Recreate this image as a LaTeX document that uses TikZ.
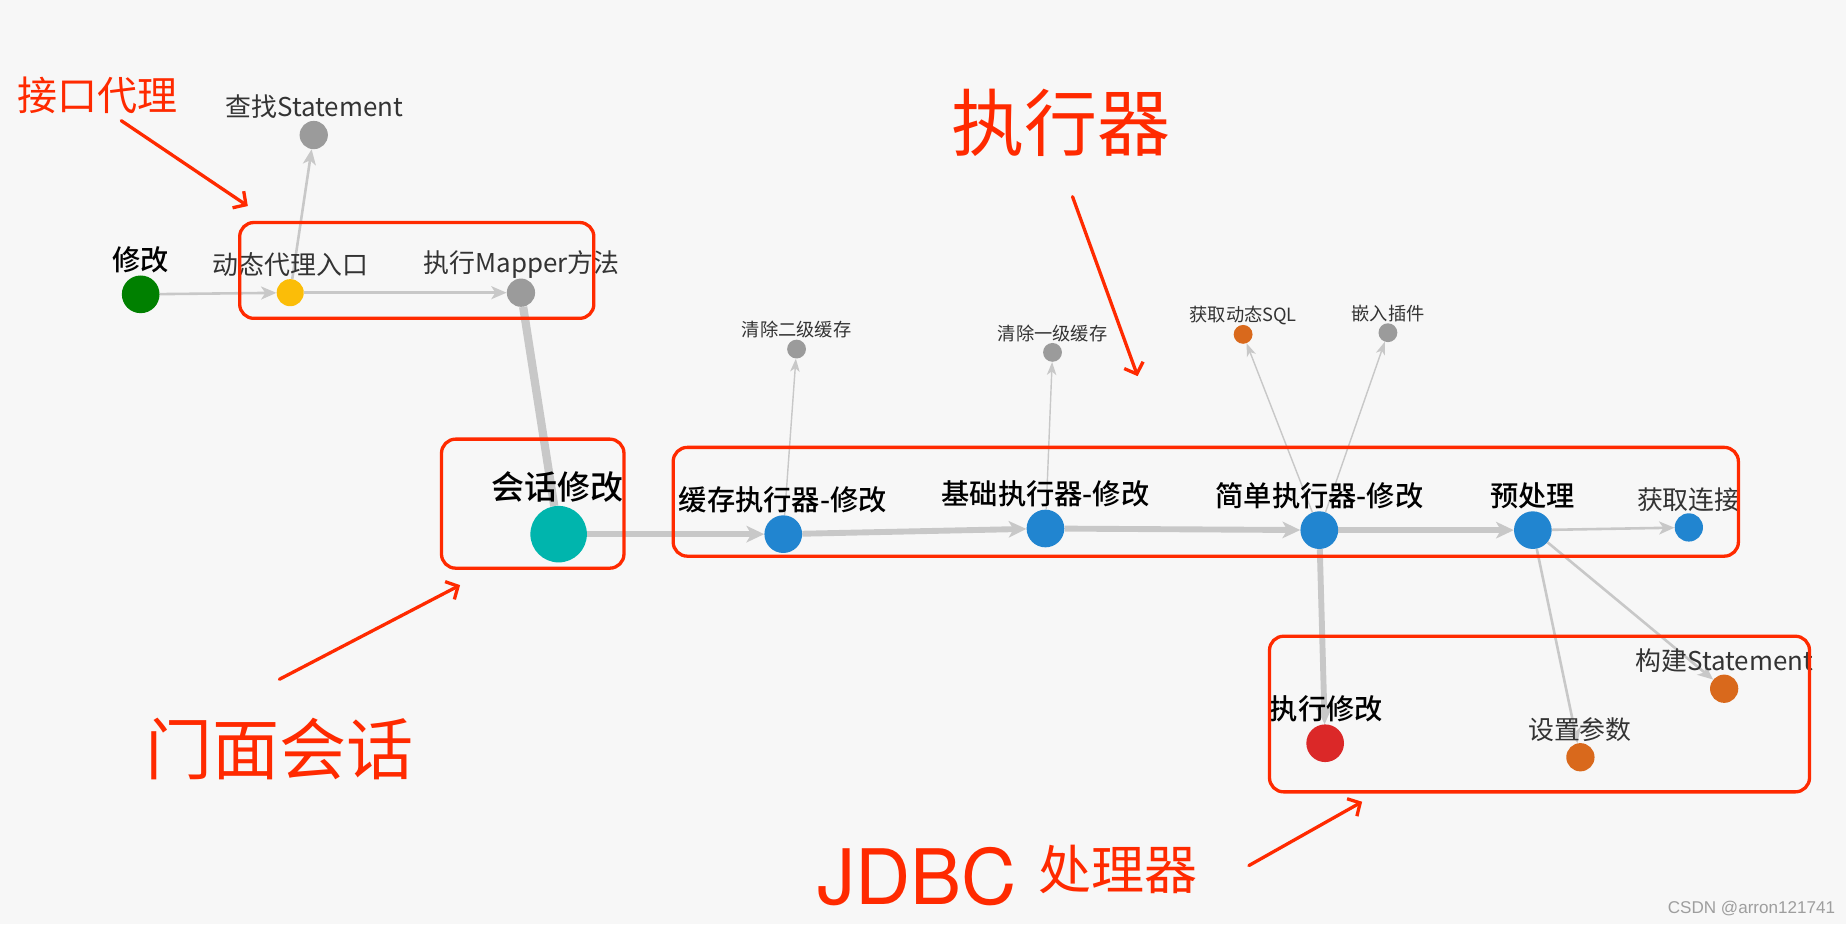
\documentclass[tikz,border=0pt]{standalone}
\usepackage{fontspec}
\setmainfont{Noto Sans CJK SC}
\newfontfamily\medium{Noto Sans CJK SC}[UprightFont=* Medium]
\newfontfamily\heros{TeX Gyre Heros}
\newfontfamily\liber{Liberation Sans}
\usetikzlibrary{arrows.meta}
\definecolor{bgc}{HTML}{F7F7F7}
\definecolor{edgec}{HTML}{C8C8C8}
\definecolor{markc}{HTML}{FF2A00}
\definecolor{greenc}{HTML}{008000}
\definecolor{yellowc}{HTML}{FBBD08}
\definecolor{grayc}{HTML}{9B9B9B}
\definecolor{tealc}{HTML}{00B5AD}
\definecolor{bluec}{HTML}{2185D0}
\definecolor{orangec}{HTML}{D9691C}
\definecolor{redc}{HTML}{DB2828}
\definecolor{textc}{HTML}{333333}
\tikzset{
  dot/.style={circle,inner sep=0pt,minimum size=#1},
  lbold/.style={inner sep=0pt,font=\medium\fontsize{24}{24}\selectfont},
  lgray/.style={inner sep=0pt,text=textc,font=\fontsize{22}{22}\selectfont},
  lsmall/.style={inner sep=0pt,text=textc,font=\fontsize{15.5}{15.5}\selectfont},
  linkfat/.style={draw=edgec,line width=5pt,-{Stealth[length=15pt,width=14pt,inset=4pt]}},
  linkmid/.style={draw=edgec,line width=2.2pt,-{Stealth[length=13pt,width=11pt,inset=3.5pt]}},
  linkfine/.style={draw=edgec,line width=1.2pt,-{Stealth[length=11pt,width=8pt,inset=3pt]}},
  redbox/.style={draw=markc,line width=2.8pt,rounded corners=12pt},
  redarrow/.style={draw=markc,line width=2.8pt,line cap=round,-{Straight Barb[length=8pt,width=17pt]}},
  redtext/.style={inner sep=0pt,text=markc},
}
\begin{document}
\begin{tikzpicture}[x=1pt,y=-1pt]
\fill[bgc] (0,0) rectangle (1568,785);
\useasboundingbox (0,0) rectangle (1568,785);
\foreach \n/\x/\y/\d/\c in {xiugai/119.5/250/32/greenc, daili/246.5/248.6/23/yellowc,
  mapper/442.5/248.6/24/grayc, chazhao/266.5/114.7/24/grayc, huihua/474.5/453.7/48/tealc,
  huancun/665.3/453.7/32/bluec, jichu/888/448.9/32/bluec, jiandan/1120.6/450.3/32/bluec,
  yuchuli/1302/450.3/32/bluec, lianjie/1434.5/448/24/bluec, erji/676.6/296.5/16/grayc,
  yiji/894/299.3/16/grayc, dtsql/1055.9/284/16/orangec, chajian/1178.9/282.6/16/grayc,
  zhixing/1125.6/631.3/32/redc, canshu/1342.4/643.2/24/orangec, goujian/1464.5/585/24/orangec}
  \node[dot=\d] (\n) at (\x,\y) {};
\draw[draw=edgec,line width=7pt] (mapper) -- (huihua);
\foreach \a/\b in {xiugai/daili, daili/mapper, daili/chazhao, yuchuli/lianjie, yuchuli/canshu, yuchuli/goujian}
  \draw[linkmid] (\a) -- (\b);
\foreach \a/\b in {huihua/huancun, huancun/jichu, jichu/jiandan, jiandan/yuchuli, jiandan/zhixing}
  \draw[linkfat] (\a) -- (\b);
\foreach \a/\b in {huancun/erji, jichu/yiji, jiandan/dtsql, jiandan/chajian}
  \draw[linkfine] (\a) -- (\b);
\foreach \n/\x/\y/\d/\c in {xiugai/119.5/250/32/greenc, daili/246.5/248.6/23/yellowc,
  mapper/442.5/248.6/24/grayc, chazhao/266.5/114.7/24/grayc, huihua/474.5/453.7/48/tealc,
  huancun/665.3/453.7/32/bluec, jichu/888/448.9/32/bluec, jiandan/1120.6/450.3/32/bluec,
  yuchuli/1302/450.3/32/bluec, lianjie/1434.5/448/24/bluec, erji/676.6/296.5/16/grayc,
  yiji/894/299.3/16/grayc, dtsql/1055.9/284/16/orangec, chajian/1178.9/282.6/16/grayc,
  zhixing/1125.6/631.3/32/redc, canshu/1342.4/643.2/24/orangec, goujian/1464.5/585/24/orangec}
  \fill[\c] (\n) circle (\d/2);
\foreach \n/\x/\y/\t in {xiugai/119.5/220.8/修改, huancun/665/424.8/缓存执行器-修改,
  jichu/888/419.7/基础执行器-修改, jiandan/1120.8/421.4/简单执行器-修改,
  yuchuli/1302/421.4/预处理, zhixing/1126.6/601.8/执行修改}
  \node[lbold] (l\n) at (\x,\y) {\t};
\node[lbold,font=\medium\fontsize{28}{28}\selectfont] (lhuihua) at (473.3,413.5) {会话修改};
\foreach \n/\x/\y/\t in {daili/246.5/225/动态代理入口, mapper/443/225/执行Mapper方法,
  chazhao/267/91/查找Statement, lianjie/1434.5/424.8/获取连接,
  canshu/1342/619.6/设置参数, goujian/1464.6/560.8/构建Statement}
  \node[lgray] (l\n) at (\x,\y) {\t};
\foreach \n/\x/\y/\t in {erji/676.7/279.8/清除二级缓存, yiji/894/283.2/清除一级缓存,
  dtsql/1056/267.6/获取动态SQL, chajian/1179/266/嵌入插件}
  \node[lsmall] (l\n) at (\x,\y) {\t};
\draw[redbox] (203.6,189) rectangle (504.4,270.4);
\draw[redbox] (375,373) rectangle (530,482.6);
\draw[redbox] (571.8,380) rectangle (1476.6,472.4);
\draw[redbox] (1078.3,540.4) rectangle (1537,672.6);
\node[redtext,font=\fontsize{34}{34}\selectfont] (daili-note) at (82.5,81) {接口代理};
\node[redtext,font=\fontsize{62}{62}\selectfont] (zhixing-note) at (901,104) {执行器};
\node[redtext,font=\fontsize{57}{57}\selectfont] (huihua-note) at (237.6,636) {门面会话};
\node[redtext,font=\heros\fontsize{65}{65}\selectfont] (jdbc-note) at (779,745) {JDBC};
\node[redtext,font=\fontsize{45}{45}\selectfont] (chuli-note) at (950,738.5) {处理器};
\node[inner sep=0pt,text=black!38,font=\liber\fontsize{14.5}{14.5}\selectfont] (mark) at (1487.7,771.5) {CSDN @arron121741};
\coordinate (a1) at (103,102.5);
\coordinate (b1) at (210.5,175);
\coordinate (a2) at (911,167);
\coordinate (b2) at (966.3,319.5);
\coordinate (a3) at (237.3,577);
\coordinate (b3) at (390.8,497);
\coordinate (a4) at (1060.8,735.2);
\coordinate (b4) at (1157,681);
\foreach \i in {1,2,3,4}
  \draw[redarrow] (a\i) -- (b\i);
\end{tikzpicture}
\end{document}
